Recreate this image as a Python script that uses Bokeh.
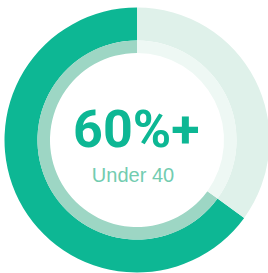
from bokeh.plotting import figure
from bokeh.models import Range1d
from bokeh.core.properties import value
from bokeh.embed import file_html
from bokeh.resources import INLINE
import numpy as np

# data
segments = ["Under 40", "Other"]
shares = [65, 35]
outer_colors = ["#0DB794", "#DFF1EA"]
inner_colors = ["#9DD6C4", "#EEF8F4"]
big_label = "60%+"
small_label = "Under 40"

W, H = 268, 273
p = figure(width=W, height=H, output_backend="svg", toolbar_location=None,
           x_range=Range1d(0, W), y_range=Range1d(0, H),
           x_axis_location=None, y_axis_location=None, min_border=0)
p.grid.visible = False
p.outline_line_color = None
p.background_fill_color = "white"
p.border_fill_color = "white"

cx, cy = 136.5, 133.5
frac = np.array(shares, dtype=float) / sum(shares)
cum = np.concatenate([[0], np.cumsum(frac)])
start = np.pi / 2 + 2 * np.pi * cum[:-1]
end = np.pi / 2 + 2 * np.pi * cum[1:]

for s, e, oc, ic in zip(start, end, outer_colors, inner_colors):
    p.annular_wedge(x=cx, y=cy, inner_radius=99.5, outer_radius=132.5,
                    inner_radius_units="screen", outer_radius_units="screen",
                    start_angle=s, end_angle=e, direction="anticlock",
                    fill_color=oc, line_color=None)
    p.annular_wedge(x=cx, y=cy, inner_radius=87, outer_radius=99.6,
                    inner_radius_units="screen", outer_radius_units="screen",
                    start_angle=s, end_angle=e, direction="anticlock",
                    fill_color=ic, line_color=None)

p.text(x=[135.8], y=[144], text=[big_label], text_font=value("Roboto"),
       text_font_style="bold", text_font_size="52px", text_color="#0DB794",
       text_align="center", text_baseline="alphabetic")
p.text(x=[132.5], y=[98.5], text=[small_label], text_font=value("Liberation Sans"),
       text_font_size="20px", text_color="#72CCB0",
       text_align="center", text_baseline="alphabetic")

open("out.html", "w").write(file_html(p, INLINE))
